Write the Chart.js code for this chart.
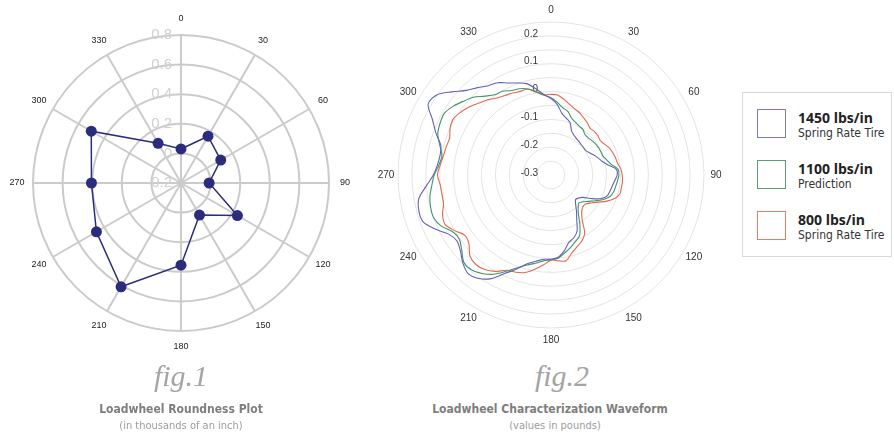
<!DOCTYPE html>
<html><head><meta charset="utf-8">
<script src="https://cdn.jsdelivr.net/npm/chart.js@4/dist/chart.umd.min.js"></script>
<style>
html,body{margin:0;padding:0;background:#fff}
body{width:894px;height:434px;overflow:hidden;position:relative;font-family:"Liberation Sans",Arial,sans-serif}
canvas{position:absolute}
.t{position:absolute;text-align:center;white-space:nowrap}
.fig{font-family:"Liberation Serif","DejaVu Serif",serif;font-style:italic;font-size:30px;color:#a4a4a4;line-height:30px}
.tt{font-family:"Liberation Sans Narrow","DejaVu Sans Condensed","Open Sans",sans-serif;font-weight:bold;font-size:12px;color:#7e7e7e;line-height:14px}
.st{font-family:"Liberation Sans Narrow","DejaVu Sans Condensed","Open Sans",sans-serif;font-size:11px;color:#9c9c9c;line-height:13px}
#legend{position:absolute;left:742px;top:92px;width:150px;height:165px;border:1px solid #dadada;box-sizing:border-box}
.li{position:absolute;left:14px;width:130px;height:31px}
.sw{position:absolute;left:0;top:0;width:29px;height:29px;border:1.5px solid;box-sizing:border-box}
.l1{position:absolute;left:41px;top:1px;font-family:"Open Sans",Lato,sans-serif;font-weight:bold;font-size:14px;line-height:16px;color:#222}
.l2{position:absolute;left:41px;top:17px;font-family:"Liberation Sans Narrow","DejaVu Sans Condensed",sans-serif;font-size:12px;line-height:14px;color:#333}
</style></head><body>
<canvas id="c1" width="356" height="356" style="left:3px;top:5px"></canvas>
<canvas id="c2" width="366" height="358" style="left:368px;top:0px"></canvas>
<div id="legend"></div>
<div class="t fig" style="left:81px;width:200px;top:361px">fig.1</div>
<div class="t tt" style="left:31px;width:300px;top:402px">Loadwheel Roundness Plot</div>
<div class="t st" style="left:31px;width:300px;top:419px">(in thousands of an inch)</div>
<div class="t fig" style="left:462px;width:200px;top:361px">fig.2</div>
<div class="t tt" style="left:400px;width:300px;top:402px">Loadwheel Characterization Waveform</div>
<div class="t st" style="left:405px;width:300px;top:419px">(values in pounds)</div>
<script>
// ---------- Figure 1 data ----------
const fig1Angles = ['0','30','60','90','120','150','180','210','240','270','300','330'];
const fig1Values = [0.03, 0.165, 0.11, -0.01, 0.24, 0.05, 0.355, 0.61, 0.46, 0.405, 0.50, 0.11];
const fig1TickLabels = [-0.2, 0, 0.2, 0.4, 0.6, 0.8];

// ---------- Figure 2 data (every 5 degrees) ----------
const fig2Angles = ['0','5','10','15','20','25','30','35','40','45','50','55','60','65','70','75','80','85',
 '90','95','100','105','110','115','120','125','130','135','140','145','150','155','160','165','170','175',
 '180','185','190','195','200','205','210','215','220','225','230','235','240','245','250','255','260','265',
 '270','275','280','285','290','295','300','305','310','315','320','325','330','335','340','345','350','355'];
const series1450 = [-0.025,-0.045,-0.075,-0.088,-0.100,-0.125,-0.135,-0.140,-0.143,-0.146,-0.147,-0.147,
 -0.140,-0.130,-0.120,-0.110,-0.092,-0.064,-0.062,-0.070,-0.076,-0.080,-0.084,-0.100,
 -0.130,-0.160,-0.171,-0.175,-0.162,-0.140,-0.115,-0.078,-0.060,-0.050,-0.024,-0.003,
 0.003,0.004,0.015,0.030,0.060,0.090,0.130,0.154,0.163,0.148,0.125,0.113,
 0.125,0.160,0.190,0.192,0.182,0.150,0.123,0.110,0.105,0.110,0.140,0.170,
 0.210,0.202,0.165,0.130,0.110,0.092,0.083,0.065,0.052,0.040,0.015,-0.010];
const series1100 = [-0.022,-0.038,-0.055,-0.064,-0.083,-0.091,-0.097,-0.100,-0.110,-0.111,-0.108,-0.105,
 -0.103,-0.102,-0.101,-0.092,-0.080,-0.058,-0.056,-0.060,-0.064,-0.067,-0.074,-0.092,
 -0.115,-0.135,-0.150,-0.158,-0.148,-0.128,-0.092,-0.058,-0.045,-0.030,-0.016,0.000,
 0.005,0.010,0.022,0.035,0.055,0.082,0.112,0.132,0.145,0.143,0.119,0.102,
 0.108,0.135,0.149,0.148,0.142,0.130,0.120,0.105,0.098,0.114,0.133,0.140,
 0.143,0.130,0.112,0.095,0.070,0.052,0.048,0.035,0.030,0.020,0.002,-0.012];
const series800 = [-0.010,-0.012,-0.025,-0.038,-0.048,-0.055,-0.064,-0.072,-0.081,-0.079,-0.080,-0.084,
 -0.078,-0.069,-0.064,-0.060,-0.057,-0.048,-0.044,-0.042,-0.043,-0.043,-0.055,-0.078,
 -0.105,-0.125,-0.138,-0.138,-0.128,-0.105,-0.058,-0.038,-0.026,-0.010,0.013,0.010,
 0.006,0.025,0.045,0.063,0.072,0.078,0.100,0.115,0.120,0.112,0.085,0.078,
 0.100,0.120,0.115,0.100,0.098,0.100,0.108,0.100,0.093,0.090,0.088,0.100,
 0.105,0.095,0.082,0.066,0.053,0.038,0.030,0.025,0.020,0.020,0.005,-0.010];
const fig2TickLabels = [-0.3, -0.2, -0.1, 0, 0.1, 0.2];
const seriesNames = ['1450 lbs/in','1100 lbs/in','800 lbs/in'];
const seriesNotes = ['Spring Rate Tire','Prediction','Spring Rate Tire'];
const seriesColors = ['#6262b8','#449466','#e6664f'];
const legendColors = ['#7a7ac0','#5c9c72','#e87a66'];

// legend (HTML)
const lg = document.getElementById('legend');
const legendTops = [16, 67, 118];
seriesNames.forEach((n,i)=>{
  const d = document.createElement('div'); d.className='li'; d.style.top = legendTops[i]+'px';
  d.innerHTML = '<div class="sw" style="border-color:'+legendColors[i]+'"></div><div class="l1">'+n+'</div><div class="l2">'+seriesNotes[i]+'</div>';
  lg.appendChild(d);
});

function fmt(v){ return (Math.round(v*10)/10).toString(); }

const custLabels = {
  id:'custLabels',
  beforeDatasetsDraw(chart, args, o){
    const s = chart.scales.r, ctx = chart.ctx;
    ctx.save();
    ctx.font = o.tickFont; ctx.fillStyle = o.tickColor; ctx.textAlign='right'; ctx.textBaseline='middle';
    o.ticks.forEach(v=>{
      const d = s.getDistanceFromCenterForValue(v);
      ctx.fillText(fmt(v), s.xCenter - o.tickDx, s.yCenter - d + o.tickDy);
    });
    ctx.font = o.angleFont; ctx.fillStyle = o.angleColor; ctx.textAlign='center'; ctx.textBaseline='middle';
    chart.data.labels.forEach((lab,i)=>{
      if (Number(lab) % o.angleStep !== 0) return;
      const p = s.getPointPosition(i, s.drawingArea + o.anglePad);
      ctx.fillText(lab, p.x, p.y);
    });
    ctx.restore();
  }
};

new Chart(document.getElementById('c1'), {
  type:'radar',
  data:{ labels: fig1Angles, datasets:[{ data: fig1Values, borderColor:'#2c2c7c', backgroundColor:'#2c2c7c',
    borderWidth:1.5, fill:false, pointRadius:5.5, pointHoverRadius:5.5, pointBackgroundColor:'#2c2c7c', pointBorderWidth:0 }]},
  options:{
    responsive:false, animation:false, events:[],
    layout:{padding:30},
    plugins:{ legend:{display:false}, tooltip:{enabled:false},
      custLabels:{ ticks: fig1TickLabels, tickFont:'15px "Liberation Sans", Arial, sans-serif', tickColor:'#d0d0d0', tickDx:9, tickDy:0,
        angleFont:'9px "Liberation Sans", Arial, sans-serif', angleColor:'#222', angleStep:30, anglePad:16 } },
    scales:{ r:{ min:-0.2, max:0.8, ticks:{ display:false, stepSize:0.2 },
      grid:{ color:'#cbcbcb', lineWidth:2, circular:true },
      angleLines:{ color:'#cbcbcb', lineWidth:2 },
      pointLabels:{ display:false } } }
  },
  plugins:[custLabels]
});

new Chart(document.getElementById('c2'), {
  type:'radar',
  data:{ labels: fig2Angles, datasets:[series1450, series1100, series800].map((d,i)=>({
    label: seriesNames[i], data:d, borderColor: seriesColors[i], borderWidth:1.1, fill:false,
    pointRadius:0, pointHoverRadius:0, tension:0.3 })) },
  options:{
    responsive:false, animation:false, events:[],
    layout:{padding:{left:30,right:30,top:22,bottom:30}},
    plugins:{ legend:{display:false}, tooltip:{enabled:false},
      custLabels:{ ticks: fig2TickLabels, tickFont:'10px "Liberation Sans", Arial, sans-serif', tickColor:'#3a3a3a', tickDx:13, tickDy:-2,
        angleFont:'10px "Liberation Sans", Arial, sans-serif', angleColor:'#333', angleStep:30, anglePad:12 } },
    scales:{ r:{ min:-0.3, max:0.25, ticks:{ display:false, stepSize:0.05 },
      grid:{ color:'#e4e4e4', lineWidth:1, circular:true },
      angleLines:{ display:false },
      pointLabels:{ display:false } } }
  },
  plugins:[custLabels]
});
</script>
</body></html>
